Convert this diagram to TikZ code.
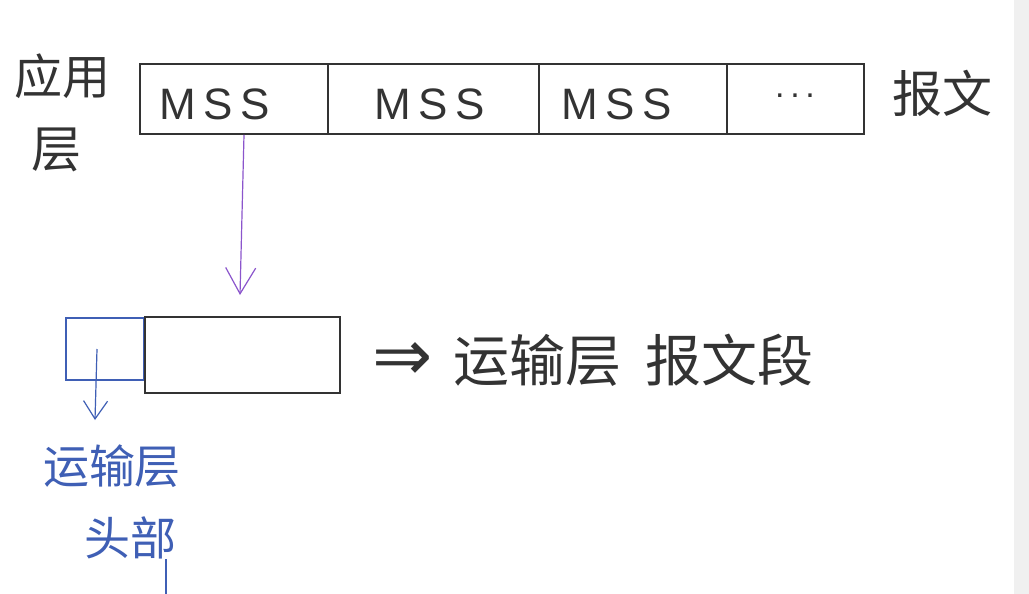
\documentclass[tikz,border=0pt]{standalone}
\usepackage{fontspec}
\setmainfont{Liberation Sans}
\newfontfamily\cjk{Noto Sans CJK SC}
\newfontfamily\symf{DejaVu Sans}
\usetikzlibrary{arrows.meta}
\definecolor{inkblack}{HTML}{333333}
\definecolor{inkblue}{HTML}{3F5FB5}
\definecolor{inkpurple}{HTML}{8B55CC}
\definecolor{sidegray}{HTML}{F0F0F0}
\tikzset{
  cell/.style={draw=inkblack, line width=1.6pt, inner sep=0pt, minimum height=70pt},
  mss/.style={font=\fontsize{44}{44}\selectfont, text=inkblack, inner sep=0pt},
  hw/.style={font=\cjk\fontsize{#1}{#1}\selectfont, text=inkblack, inner sep=0pt},
  hwblue/.style={font=\cjk\fontsize{#1}{#1}\selectfont, text=inkblue, inner sep=0pt},
}
\begin{document}
\begin{tikzpicture}[x=1pt,y=-1pt]
\useasboundingbox (0,0) rectangle (1029,594);
\fill[white] (0,0) rectangle (1029,594);
\fill[sidegray] (1014,0) rectangle (1029,594);

% top bar
\node[cell, minimum width=188pt] (m1) at (234,99) {};
\node[cell, minimum width=211pt] (m2) at (433.5,99) {};
\node[cell, minimum width=188pt] (m3) at (633,99) {};
\node[cell, minimum width=137pt] (m4) at (795.5,99) {};
\node[mss] (t1) at (215,104) {M\,S\,S};
\node[mss] (t2) at (430,104) {M\,S\,S};
\node[mss] (t3) at (617,104) {M\,S\,S};
\node[font=\fontsize{34}{34}\selectfont, text=inkblack, inner sep=0pt] (t4) at (795,96) {.\,.\,.};

% side labels
\node[hw=48] (app1) at (62,76) {应用};
\node[hw=50] (app2) at (56,150) {层};
\node[hw=50] (msg) at (942,93) {报文};

% bottom segment
\node[draw=inkblue, line width=1.6pt, minimum width=78pt, minimum height=62pt, inner sep=0pt] (hdr) at (105,349) {};
\node[draw=inkblack, line width=1.6pt, minimum width=195pt, minimum height=76pt, inner sep=0pt] (seg) at (242.5,355) {};

\node[font=\symf\fontsize{72}{72}\selectfont, text=inkblack, inner sep=0pt] (impl) at (403,362) {⇒};
\node[hw=56] (tl) at (537,360) {运输层};
\node[hw=56] (ts) at (729,360) {报文段};

\node[hwblue=46] (h1) at (112,466) {运输层};
\node[hwblue=46] (h2) at (130,538) {头部};

% connectors
\coordinate (pend) at (240,295);
\draw[inkpurple, line width=1.2pt, -{Straight Barb[length=26pt,width=30pt]}] ([xshift=10pt]m1.south) -- (pend);
\coordinate (bend) at (95,420);
\draw[inkblue, line width=1.2pt, -{Straight Barb[length=18pt,width=24pt]}] ([xshift=-8pt]hdr.center) -- (bend);
\draw[inkblue, line width=1.2pt] ([xshift=36pt]h2.south) -- (166,594);
\end{tikzpicture}
\end{document}
